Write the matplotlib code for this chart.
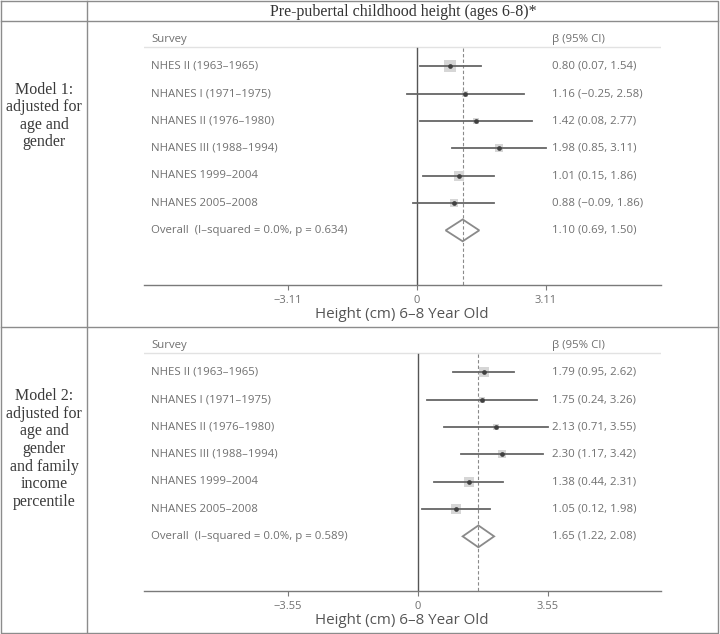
import matplotlib
matplotlib.use("Agg")
import matplotlib.pyplot as plt
from matplotlib.patches import Polygon
from matplotlib.transforms import blended_transform_factory
import numpy as np

# --- data ---
title = "Pre-pubertal childhood height (ages 6-8)*"
surveys = ["NHES II (1963\u20131965)", "NHANES I (1971\u20131975)", "NHANES II (1976\u20131980)",
           "NHANES III (1988\u20131994)", "NHANES 1999\u20132004", "NHANES 2005\u20132008"]

m1_label = "Model 1:\nadjusted for\nage and\ngender"
m1_beta = [0.80, 1.16, 1.42, 1.98, 1.01, 0.88]
m1_lo = [0.07, -0.25, 0.08, 0.85, 0.15, -0.09]
m1_hi = [1.54, 2.58, 2.77, 3.11, 1.86, 1.86]
m1_overall = (1.10, 0.69, 1.50)
m1_het = "Overall  (I\u2013squared = 0.0%, p = 0.634)"
m1_ticks = [-3.11, 0, 3.11]

m2_label = "Model 2:\nadjusted for\nage and\ngender\nand family\nincome\npercentile"
m2_beta = [1.79, 1.75, 2.13, 2.30, 1.38, 1.05]
m2_lo = [0.95, 0.24, 0.71, 1.17, 0.44, 0.12]
m2_hi = [2.62, 3.26, 3.55, 3.42, 2.31, 1.98]
m2_overall = (1.65, 1.22, 2.08)
m2_het = "Overall  (I\u2013squared = 0.0%, p = 0.589)"
m2_ticks = [-3.55, 0, 3.55]

xlabel = "Height (cm) 6\u20138 Year Old"

W, H = 720, 634
SANS = ["Open Sans", "DejaVu Sans"]
SERIF = ["Liberation Serif", "DejaVu Serif"]
TXT = "#707070"
LINE = "#7a7a7a"
FS = 8.2

fig = plt.figure(figsize=(W / 100, H / 100), dpi=100)

# overlay in pixel coordinates for the table grid
grid = fig.add_axes([0, 0, 1, 1])
grid.set_xlim(0, W)
grid.set_ylim(H, 0)
grid.axis("off")
gkw = dict(color="#8c8c8c", linewidth=1.0)
grid.plot([1, 718, 718, 1, 1], [1, 1, 633, 633, 1], **gkw)
grid.plot([87, 87], [1, 633], **gkw)
grid.plot([1, 718], [21, 21], **gkw)
grid.plot([1, 718], [327, 327], **gkw)
grid.text(403, 12, title, ha="center", va="center", fontsize=11.5, family=SERIF, color="#333333")
grid.text(44, 116, m1_label, ha="center", va="center", fontsize=11.5, family=SERIF,
          color="#3a3a3a", linespacing=1.13)
grid.text(44, 449, m2_label, ha="center", va="center", fontsize=11.5, family=SERIF,
          color="#3a3a3a", linespacing=1.13)


def forest(top, bottom, zero_px, unit_px, beta, lo, hi, overall, het, ticks, label_y):
    left, right = 144, 661
    ax = fig.add_axes([left / W, 1 - bottom / H, (right - left) / W, (bottom - top) / H])
    ax.set_xlim((left - zero_px) / unit_px, (right - zero_px) / unit_px)
    ax.set_ylim(9, -0.7)
    ax.patch.set_alpha(0)
    for s in ["top", "left", "right"]:
        ax.spines[s].set_visible(False)
    ax.spines["bottom"].set_color(LINE)
    ax.spines["bottom"].set_linewidth(1.0)
    ax.set_yticks([])
    ax.set_xticks(ticks)
    ax.set_xticklabels([("%g" % t).replace("-", "\u2212") if t != 0 else "0" for t in ticks],
                       family=SANS, fontsize=8, color=TXT)
    ax.tick_params(axis="x", length=3.5, width=0.8, color=LINE, pad=3.5)

    tr = blended_transform_factory(ax.transAxes, ax.transData)
    # header
    ax.text(0.0135, 0, "Survey", transform=tr, ha="left", va="center", family=SANS, fontsize=FS, color=TXT)
    ax.text(0.79, 0, "\u03b2 (95% CI)", transform=tr, ha="left", va="center", family=SANS, fontsize=FS, color=TXT)
    ax.plot([0, 1], [0.3, 0.3], transform=tr, color="#e2e2e2", linewidth=1.0)

    ax.plot([0, 0], [0.33, 9], color="#555555", linewidth=1.0)
    ax.plot([overall[0], overall[0]], [0.33, 9], color="#8a8a8a", linewidth=0.8, linestyle=(0, (3, 2)))

    beta, lo, hi = np.array(beta), np.array(lo), np.array(hi)
    inv_var = 1 / ((hi - lo) / 3.92) ** 2
    weight = inv_var / inv_var.sum()
    for i in range(len(beta)):
        y = i + 1
        side_px = 20 * np.sqrt(weight[i])
        ax.plot(beta[i], y, marker="s", markersize=side_px * 0.72, color="#d6d6d6",
                markeredgewidth=0, zorder=2)
        ax.plot([lo[i], hi[i]], [y, y], color="#666666", linewidth=1.3, zorder=3)
        ax.plot(beta[i], y, marker="o", markersize=3.4, color="#404040", markeredgewidth=0, zorder=4)
        ax.text(0.0135, y, surveys[i], transform=tr, ha="left", va="center", family=SANS, fontsize=FS, color=TXT)
        est = "%.2f (%.2f, %.2f)" % (beta[i], lo[i], hi[i])
        ax.text(0.79, y, est.replace("-", "\u2212"), transform=tr, ha="left", va="center",
                family=SANS, fontsize=FS, color=TXT)

    yo = len(beta) + 1
    b, l, h = overall
    ax.add_patch(Polygon([[l, yo], [b, yo - 0.4], [h, yo], [b, yo + 0.4]], closed=True,
                         fill=False, edgecolor="#8a8a8a", linewidth=1.3, zorder=3))
    ax.text(0.0135, yo, het, transform=tr, ha="left", va="center", family=SANS, fontsize=FS, color=TXT)
    ax.text(0.79, yo, "%.2f (%.2f, %.2f)" % overall, transform=tr, ha="left", va="center",
            family=SANS, fontsize=FS, color=TXT)

    grid.text(402, label_y, xlabel, ha="center", va="center", family=SANS, fontsize=10.9, color="#555555")
    return ax


forest(20, 285, 417, 41.5, m1_beta, m1_lo, m1_hi, m1_overall, m1_het, m1_ticks, 315)
forest(326, 591, 418, 36.6, m2_beta, m2_lo, m2_hi, m2_overall, m2_het, m2_ticks, 621)

fig.savefig("out.png", dpi=100)
